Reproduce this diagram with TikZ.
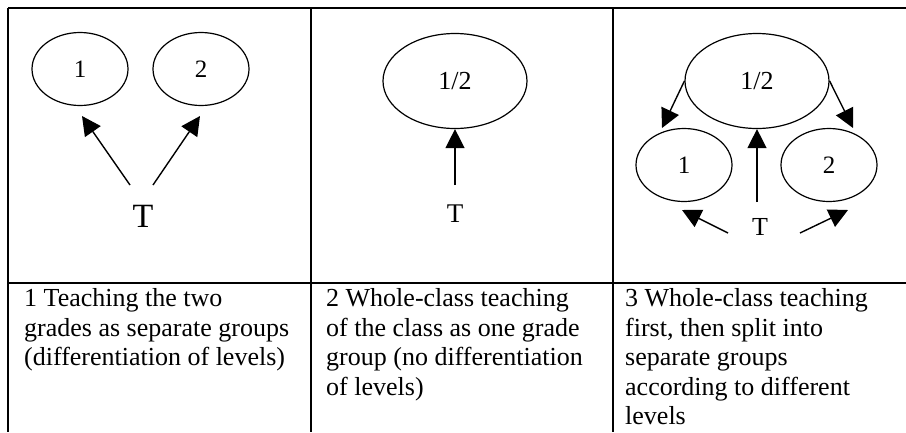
\documentclass[tikz,border=0pt]{standalone}
\usepackage{fontspec}
\setmainfont{Liberation Serif}
\usetikzlibrary{arrows.meta,shapes.geometric}
\begin{document}
\begin{tikzpicture}[x=1pt,y=-1pt,
  grid/.style={line width=1.3pt},
  oval/.style={draw,ellipse,line width=1.2pt,inner sep=0pt},
  small/.style={oval,minimum width=96pt,minimum height=73pt,font=\fontsize{25}{29}\selectfont},
  big/.style={oval,minimum width=144pt,minimum height=95pt,font=\fontsize{26}{30}\selectfont},
  teacher/.style={anchor=base,inner sep=0pt},
  link/.style={line width=1.4pt,-{Triangle[length=19pt,width=19pt]}},
  cell/.style={anchor=north west,inner sep=0pt,align=left,font=\fontsize{26}{29.5}\selectfont},
  ]
\useasboundingbox (0,0) rectangle (906,432);

% table rules
\draw[grid] (8,8) -- (906,8);
\draw[grid] (8,283) -- (906,283);
\draw[grid] (8,8) -- (8,432);
\draw[grid] (311,8) -- (311,432);
\draw[line width=2.4pt] (613,8) -- (613,432);

% model 1: two separate groups
\node[small] (a1) at (80,69) {1};
\node[small] (a2) at (201,69) {2};
\node[teacher,font=\fontsize{34}{40}\selectfont] (ta) at (143,227) {T};
\coordinate (ta1) at (130,185);
\coordinate (ta2) at (153,185);
\coordinate (ha1) at (82,116);
\coordinate (ha2) at (200,116);
\draw[link] (ta1) -- (ha1);
\draw[link] (ta2) -- (ha2);

% model 2: whole class
\node[big] (b) at (455,81) {1/2};
\node[teacher,font=\fontsize{27}{32}\selectfont] (tb) at (455,222) {T};
\coordinate (tb1) at (455,185);
\draw[link] (tb1) -- (b.south);

% model 3: whole class, then split
\node[big] (c) at (757,81) {1/2};
\node[small] (c1) at (684,165) {1};
\node[small] (c2) at (829,165) {2};
\node[teacher,font=\fontsize{26}{31}\selectfont] (tc) at (760,235) {T};
\coordinate (hc1) at (662,128);
\coordinate (hc2) at (853,128);
\draw[link] (c.west) -- (hc1);
\draw[link] (c.east) -- (hc2);
\coordinate (tc0) at (757,202);
\draw[link] (tc0) -- (c.south);
\coordinate (tc1) at (728,233);
\coordinate (tc2) at (800,233);
\coordinate (hc3) at (682,210);
\coordinate (hc4) at (848,210);
\draw[link] (tc1) -- (hc3);
\draw[link] (tc2) -- (hc4);

% captions
\node[cell] (d1) at (24,286) {\strut 1 Teaching the two\\grades as separate groups\\(differentiation of levels)};
\node[cell] (d2) at (326,286) {\strut 2 Whole-class teaching\\of the class as one grade\\group (no differentiation\\of levels)};
\node[cell] (d3) at (625,286) {\strut 3 Whole-class teaching\\first, then split into\\separate groups\\according to different\\levels};
\end{tikzpicture}
\end{document}
